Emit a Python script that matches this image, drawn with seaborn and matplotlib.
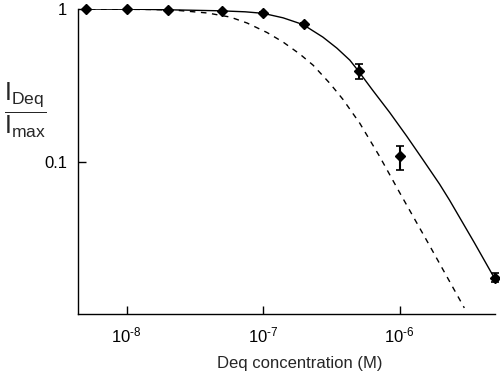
import seaborn as sns
import matplotlib.pyplot as plt
import matplotlib.ticker as mticker

# measured points (concentration in M, normalised current)
conc = [5e-9, 1e-8, 2e-8, 5e-8, 1e-7, 2e-7, 5e-7, 1e-6, 5e-6]
i_rel = [1.0, 1.0, 0.98, 0.97, 0.946, 0.80, 0.395, 0.111, 0.0178]
err_lo = [0.0, 0.0, 0.0, 0.0, 0.01, 0.01, 0.044, 0.0215, 0.0012]
err_hi = [0.0, 0.0, 0.0, 0.0, 0.01, 0.01, 0.041, 0.018, 0.0012]

# fitted curve (solid)
fit_x = [4.46e-9, 1.265e-8, 2.48e-8, 4.85e-8, 7.39e-8, 1.0e-7, 1.40e-7,
         1.96e-7, 2.74e-7, 3.47e-7, 4.32e-7, 4.94e-7, 6.35e-7, 8.45e-7,
         1.125e-6, 1.47e-6, 1.96e-6, 2.32e-6, 3.53e-6, 4.94e-6]
fit_y = [1.0, 0.9955, 0.985, 0.9733, 0.9587, 0.937, 0.876,
         0.792, 0.656, 0.556, 0.464, 0.399, 0.2955, 0.212,
         0.1488, 0.1054, 0.0724, 0.0569, 0.0300, 0.0177]

# predicted curve (dashed)
pred_x = [4.46e-9, 1.50e-8, 2.20e-8, 3.90e-8, 5.74e-8, 7.64e-8, 1.07e-7,
          1.40e-7, 1.86e-7, 2.32e-7, 3.08e-7, 3.84e-7, 5.11e-7, 7.14e-7,
          1.0e-6, 1.66e-6, 2.98e-6]
pred_y = [1.0, 0.9925, 0.985, 0.942, 0.886, 0.810, 0.702,
          0.609, 0.508, 0.431, 0.328, 0.258, 0.180, 0.1094,
          0.0637, 0.0287, 0.01128]

sns.set_style("ticks")
plt.rcParams["font.family"] = ["Liberation Sans", "DejaVu Sans"]
plt.rcParams["mathtext.fontset"] = "custom"
plt.rcParams["mathtext.rm"] = "Liberation Sans"
plt.rcParams["mathtext.it"] = "Liberation Sans"
plt.rcParams["mathtext.sf"] = "Liberation Sans"

fig = plt.figure(figsize=(5, 3.75), dpi=100)
ax = fig.add_axes([0.156, 0.1627, 0.834, 0.8133])

sns.lineplot(x=fit_x, y=fit_y, color="black", linewidth=1.0, ax=ax)
sns.lineplot(x=pred_x, y=pred_y, color="black", linewidth=1.0, ax=ax,
             linestyle=(0, (4, 4)))
ax.errorbar(conc, i_rel, yerr=[err_lo, err_hi], fmt="D", color="black",
            markersize=5.5, capsize=3, elinewidth=1.5, capthick=1.2,
            clip_on=False, zorder=5)

ax.set_xscale("log")
ax.set_yscale("log")
ax.set_xlim(4.4e-9, 5e-6)
ax.set_ylim(0.0103, 1.0)

ax.xaxis.set_major_locator(mticker.FixedLocator([1e-8, 1e-7, 1e-6]))
ax.xaxis.set_major_formatter(mticker.FixedFormatter(
    [r"$10^{\text{-}8}$", r"$10^{\text{-}7}$", r"$10^{\text{-}6}$"]))
ax.xaxis.set_minor_locator(mticker.NullLocator())
ax.yaxis.set_major_locator(mticker.FixedLocator([0.1, 1.0]))
ax.yaxis.set_major_formatter(mticker.FixedFormatter(["0.1", "1"]))
ax.yaxis.set_minor_locator(mticker.NullLocator())

ax.tick_params(direction="in", length=6, width=1, labelsize=12, pad=8,
               colors="black")
sns.despine(ax=ax)
for s in ["left", "bottom"]:
    ax.spines[s].set_linewidth(1.0)
    ax.spines[s].set_color("black")

ax.set_xlabel("Deq concentration (M)", fontsize=12)
ax.xaxis.set_label_coords(0.532, -0.138)
ax.set_ylabel(r"$\dfrac{\mathrm{I_{Deq}}}{\mathrm{I_{max}}}$", fontsize=18,
              rotation=0, ha="center", va="center")
ax.yaxis.set_label_coords(-0.125, 0.67)

fig.savefig("out.png", dpi=100)
